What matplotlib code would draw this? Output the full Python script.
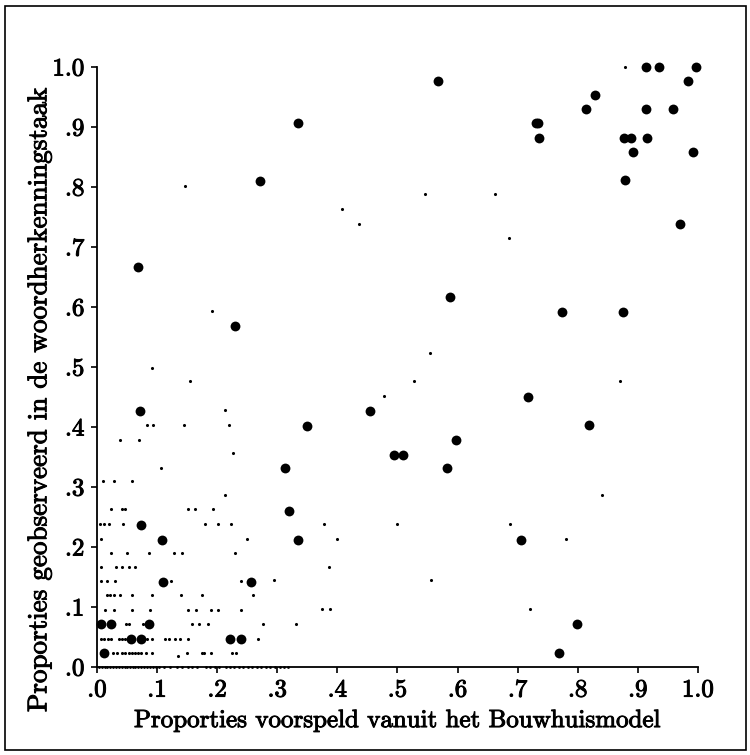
import matplotlib
matplotlib.use("Agg")
import matplotlib.pyplot as plt
import matplotlib.patheffects as pe
from matplotlib.patches import Rectangle

# big dots: (predicted, observed)
big_x = [0.913, 0.935, 0.996, 0.983, 0.567, 0.828, 0.814, 0.913, 0.958, 0.730,
         0.734, 0.736, 0.877, 0.888, 0.916, 0.892, 0.992, 0.879, 0.970, 0.588,
         0.774, 0.875, 0.334, 0.272, 0.068, 0.229, 0.454, 0.349, 0.597, 0.494,
         0.510, 0.313, 0.583, 0.320, 0.334, 0.717, 0.819, 0.705, 0.798, 0.769,
         0.071, 0.074, 0.108, 0.110, 0.257, 0.006, 0.024, 0.086, 0.056, 0.074,
         0.221, 0.239, 0.012]
big_y = [1.000, 1.000, 1.000, 0.977, 0.976, 0.953, 0.930, 0.930, 0.930, 0.906,
         0.906, 0.882, 0.882, 0.882, 0.882, 0.858, 0.858, 0.811, 0.738, 0.617,
         0.592, 0.592, 0.906, 0.810, 0.666, 0.568, 0.426, 0.402, 0.379, 0.354,
         0.354, 0.331, 0.331, 0.260, 0.211, 0.450, 0.403, 0.212, 0.071, 0.023,
         0.426, 0.237, 0.212, 0.142, 0.142, 0.071, 0.071, 0.071, 0.047, 0.047,
         0.046, 0.046, 0.023]

# small dots
small_x = [0.878, 0.545, 0.662, 0.685, 0.554, 0.146, 0.408, 0.436, 0.192, 0.091,
           0.528, 0.478, 0.378, 0.500, 0.399, 0.386, 0.870, 0.841, 0.688, 0.780,
           0.721, 0.374, 0.388, 0.556, 0.154, 0.213, 0.084, 0.093, 0.145, 0.219,
           0.039, 0.070, 0.226, 0.106, 0.010, 0.029, 0.058, 0.213,
           0.024, 0.041, 0.046, 0.151, 0.163, 0.193,
           0.005, 0.012, 0.020, 0.043, 0.180, 0.202, 0.223,
           0.007, 0.249,
           0.024, 0.050, 0.086, 0.128, 0.141, 0.229,
           0.007, 0.031, 0.042, 0.053, 0.063,
           0.006, 0.017, 0.030, 0.124, 0.239, 0.295,
           0.016, 0.021, 0.028, 0.039, 0.058, 0.092, 0.139, 0.174, 0.259,
           0.013, 0.028, 0.059, 0.089, 0.151, 0.164, 0.190, 0.202, 0.240,
           0.048, 0.053, 0.076, 0.092, 0.158, 0.169, 0.184, 0.277, 0.332,
           0.006, 0.012, 0.019, 0.024, 0.036, 0.041, 0.047, 0.051, 0.084, 0.092,
           0.114, 0.120, 0.130, 0.138, 0.151, 0.268,
           0.026, 0.034, 0.042, 0.047, 0.053, 0.058, 0.063, 0.069, 0.074, 0.081,
           0.092, 0.149, 0.174, 0.178, 0.190, 0.224, 0.231, 0.134]
small_y = [1.000, 0.788, 0.788, 0.715, 0.523, 0.802, 0.764, 0.739, 0.593, 0.498,
           0.476, 0.452, 0.238, 0.238, 0.213, 0.167, 0.476, 0.287, 0.238, 0.214,
           0.096, 0.096, 0.096, 0.145, 0.476, 0.428, 0.404, 0.404, 0.404, 0.404,
           0.379, 0.379, 0.356, 0.332, 0.310, 0.310, 0.310, 0.286,
           0.263, 0.263, 0.263, 0.263, 0.263, 0.263,
           0.238, 0.238, 0.238, 0.238, 0.238, 0.238, 0.238,
           0.213, 0.213,
           0.190, 0.190, 0.190, 0.190, 0.190, 0.190,
           0.167, 0.167, 0.167, 0.167, 0.167,
           0.143, 0.143, 0.143, 0.143, 0.143, 0.145,
           0.120, 0.120, 0.120, 0.120, 0.120, 0.120, 0.120, 0.120, 0.120,
           0.095, 0.095, 0.095, 0.095, 0.095, 0.095, 0.095, 0.095, 0.095,
           0.071, 0.071, 0.071, 0.071, 0.071, 0.071, 0.071, 0.071, 0.071,
           0.047, 0.047, 0.047, 0.047, 0.047, 0.047, 0.047, 0.047, 0.047, 0.047,
           0.047, 0.047, 0.047, 0.047, 0.047, 0.047,
           0.024, 0.024, 0.024, 0.024, 0.024, 0.024, 0.024, 0.024, 0.024, 0.024,
           0.024, 0.024, 0.024, 0.024, 0.024, 0.024, 0.024, 0.019]

# row of small dots on zero
zero_x = [0.003, 0.008, 0.013, 0.017, 0.022, 0.027, 0.031, 0.036, 0.041, 0.046,
          0.050, 0.055, 0.060, 0.064, 0.069, 0.074, 0.079, 0.083, 0.088, 0.093,
          0.098, 0.104, 0.112, 0.121, 0.133, 0.141, 0.152, 0.158, 0.166, 0.181,
          0.188, 0.196, 0.203, 0.214, 0.221, 0.228, 0.236, 0.243, 0.251, 0.258,
          0.266, 0.273, 0.281, 0.288, 0.296, 0.304, 0.311, 0.318]

ticks = [0.0, 0.1, 0.2, 0.3, 0.4, 0.5, 0.6, 0.7, 0.8, 0.9, 1.0]
tick_labels = [".0", ".1", ".2", ".3", ".4", ".5", ".6", ".7", ".8", ".9", "1.0"]

plt.rcParams["font.family"] = ["cmr10", "DejaVu Serif"]
thick = [pe.withStroke(linewidth=0.7, foreground="black")]

fig = plt.figure(figsize=(7.5, 7.55), dpi=100)
ax = fig.add_axes([0.1293, 0.1166, 0.8013, 0.7947])

ax.scatter(zero_x, [0.0] * len(zero_x), s=4, c="black", linewidths=0, clip_on=False, zorder=3)
ax.scatter(small_x, small_y, s=5, c="black", linewidths=0, clip_on=False, zorder=3)
ax.scatter(big_x, big_y, s=50, c="black", linewidths=0, clip_on=False, zorder=4)

ax.set_xlim(0, 1)
ax.set_ylim(0, 1)
ax.set_xticks(ticks)
ax.set_xticklabels(tick_labels)
ax.set_yticks(ticks)
ax.set_yticklabels(tick_labels)
ax.tick_params(direction="out", length=4, width=1.2, labelsize=18, pad=5, colors="black")
for lab in ax.get_xticklabels() + ax.get_yticklabels():
    lab.set_path_effects(thick)
for side in ["top", "right"]:
    ax.spines[side].set_visible(False)
for side in ["left", "bottom"]:
    ax.spines[side].set_linewidth(1.3)

ax.set_xlabel("Proporties voorspeld vanuit het Bouwhuismodel", fontsize=18,
              labelpad=6, path_effects=thick)
ax.set_ylabel("Proporties geobserveerd in de woordherkenningstaak", fontsize=19.5,
              path_effects=thick)
ax.yaxis.set_label_coords(-0.076, 0.445)

# frame around the whole picture
fig.patches.append(Rectangle((0.006, 0.007), 0.988, 0.985, transform=fig.transFigure,
                             fill=False, edgecolor="black", linewidth=1.2))

fig.savefig("out.png", dpi=100, facecolor="white")
